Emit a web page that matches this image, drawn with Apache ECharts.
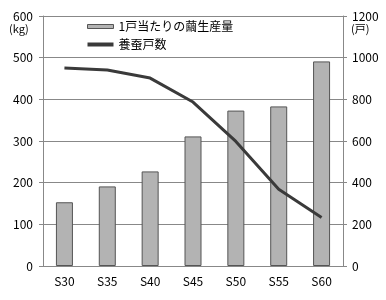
<!DOCTYPE html>
<html><head><meta charset="utf-8">
<script src="https://cdn.jsdelivr.net/npm/echarts@6/dist/echarts.min.js"></script>
<style>html,body{margin:0;padding:0;background:#fff}#c{width:386px;height:300px}</style>
</head><body><div id="c"></div>
<script>
const categories = ['S30','S35','S40','S45','S50','S55','S60'];
const cocoonPerHousehold = [153, 191, 227, 311, 373, 383, 491];
const households = [950, 941, 902, 787, 598, 368, 233];
const leftTicks = {min:0, max:600, interval:100};
const rightTicks = {min:0, max:1200, interval:200};
const barName = '1戸当たりの繭生産量';
const lineName = '養蚕戸数';

const font = '"Noto Sans CJK JP", "DejaVu Sans", sans-serif';
const chart = echarts.init(document.getElementById('c'), null, {renderer:'canvas'});
chart.setOption({
  animation:false,
  backgroundColor:'#fff',
  textStyle:{fontFamily:font},
  grid:{left:43, right:43, top:16, bottom:34, containLabel:false},
  legend:{
    orient:'vertical', left:82, top:13, itemGap:1, itemWidth:26, itemHeight:4,
    textStyle:{fontFamily:font, fontSize:12, color:'#000', lineHeight:17},
    data:[
      {name:barName, icon:'rect', itemStyle:{color:'#b3b3b3', borderColor:'#555', borderWidth:1}},
      {name:lineName, icon:'rect', itemStyle:{color:'#3a3a3a', borderWidth:0}}
    ]
  },
  xAxis:{
    type:'category', data:categories,
    axisLine:{lineStyle:{color:'#888', width:1}},
    axisTick:{show:false},
    axisLabel:{color:'#000', fontSize:12, fontFamily:font, margin:9}
  },
  yAxis:[
    {type:'value', min:leftTicks.min, max:leftTicks.max, interval:leftTicks.interval,
     axisLine:{show:true, lineStyle:{color:'#888'}},
     axisTick:{show:true, inside:false, length:4, lineStyle:{color:'#888'}},
     splitLine:{show:true, lineStyle:{color:'#888', width:1}},
     axisLabel:{color:'#000', fontSize:12, fontFamily:font, margin:10, formatter:v => String(v)}},
    {type:'value', min:rightTicks.min, max:rightTicks.max, interval:rightTicks.interval,
     axisLine:{show:true, lineStyle:{color:'#888'}},
     axisTick:{show:true, inside:false, length:4, lineStyle:{color:'#888'}},
     splitLine:{show:false},
     axisLabel:{color:'#000', fontSize:12, fontFamily:font, margin:9, formatter:v => String(v)}}
  ],
  graphic:[
    {type:'text', left:9, top:23, style:{text:'(kg)', fontSize:11, fontFamily:font, fill:'#000'}},
    {type:'text', left:351, top:23, style:{text:'(戸)', fontSize:11, fontFamily:font, fill:'#000'}}
  ],
  series:[
    {name:barName, type:'bar', data:cocoonPerHousehold, yAxisIndex:0, barWidth:17,
     itemStyle:{color:'#b3b3b3', borderColor:'#555', borderWidth:1}},
    {name:lineName, type:'line', data:households, yAxisIndex:1, symbol:'none',
     lineStyle:{color:'#3a3a3a', width:3}, itemStyle:{color:'#3a3a3a'}}
  ]
});
</script></body></html>
